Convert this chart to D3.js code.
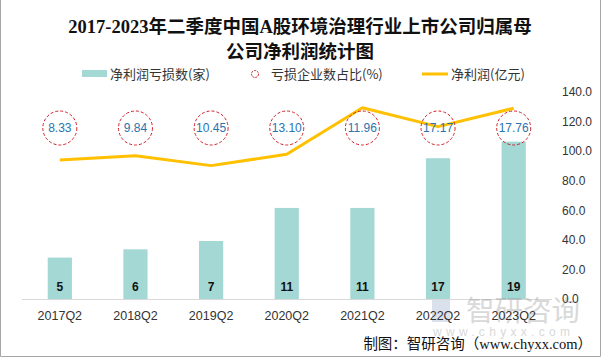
<!DOCTYPE html>
<html><head><meta charset="utf-8">
<script src="https://cdn.jsdelivr.net/npm/d3@7"></script>
<style>body{margin:0;background:#fff}svg{display:block}</style>
</head><body>
<svg id="c" width="601" height="357"></svg>
<script>
const categories = ["2017Q2","2018Q2","2019Q2","2020Q2","2021Q2","2022Q2","2023Q2"];
const lossCounts = [5, 6, 7, 11, 11, 17, 19];
const lossRatio = ["8.33","9.84","10.45","13.10","11.96","17.17","17.76"];
const netProfit = [94.0, 96.9, 90.2, 97.9, 129.4, 116.6, 129.0];
const rightTicks = [0, 20, 40, 60, 80, 100, 120, 140];
const titleLines = ["2017-2023年二季度中国A股环境治理行业上市公司归属母","公司净利润统计图"];
const legendLabels = ["净利润亏损数(家)","亏损企业数占比(%)","净利润(亿元)"];

const svg = d3.select("#c");
const W = 601, H = 357;
const sans = "'Liberation Sans','Noto Sans CJK SC',sans-serif";
const cjk = "'Noto Sans CJK SC',sans-serif";

// border
svg.append("path").attr("d", `M0.5,0 V${H-0.5} H${W-0.5} V0`).attr("fill","none").attr("stroke","#a6a6a6");

// title
svg.selectAll("text.title").data(titleLines).join("text")
  .attr("x", 300).attr("y", (d,i)=> 33 + i*25)
  .attr("text-anchor","middle")
  .attr("font-family","'Liberation Serif','Noto Sans CJK SC',serif")
  .attr("font-weight","bold").attr("font-size", 18.5).attr("fill","#111")
  .text(d=>d);

const x = d3.scaleBand().domain(categories).range([22, 551.5]).paddingInner(0.68).paddingOuter(0.34);
const yL = d3.scaleLinear().domain([0, 25]).range([299, 92]);
const yR = d3.scaleLinear().domain([0, 140]).range([299, 92]);
const cx = d => x(d) + x.bandwidth()/2;

// bars
svg.selectAll("rect.bar").data(lossCounts).join("rect")
  .attr("x",(d,i)=>x(categories[i])).attr("width",x.bandwidth())
  .attr("y",d=>yL(d)).attr("height",d=>yL(0)-yL(d))
  .attr("fill","#a3d8d4");

// axis baseline
svg.append("line").attr("x1",22).attr("x2",552).attr("y1",299.5).attr("y2",299.5).attr("stroke","#d9d9d9");

// watermark (drawn faintly, as in the reference)
const wm = svg.append("g").attr("opacity", 0.32);
wm.append("rect").attr("x",432).attr("y",300).attr("width",18).attr("height",22).attr("fill","#8fa3c8");
wm.append("text").attr("x",466).attr("y",321).attr("font-family",cjk).attr("font-size",28.5).attr("fill","#8a8a8a").text("智研咨询");
wm.append("text").attr("x",433).attr("y",336).attr("font-family",sans).attr("font-size",12).attr("letter-spacing",4.3).attr("fill","#8a8a8a").text("www.chyxx.com");

// bar labels
svg.selectAll("text.bl").data(lossCounts).join("text")
  .attr("x",(d,i)=>cx(categories[i])).attr("y",291)
  .attr("text-anchor","middle").attr("font-family",sans).attr("font-weight","bold")
  .attr("font-size",12).attr("fill","#111").text(d=>d);

// x axis labels
const xAxis = d3.axisBottom(x).tickSize(0).tickPadding(0);
const gx = svg.append("g").attr("transform","translate(0,312)").call(xAxis);
gx.select(".domain").remove();
gx.selectAll("text").attr("font-family",sans).attr("font-size",12.5).attr("fill","#333").attr("dy","0.65em");

// right axis
const rAxis = d3.axisRight(yR).tickValues(rightTicks).tickFormat(d3.format(".1f")).tickSize(0).tickPadding(0);
const gr = svg.append("g").attr("transform","translate(562,0)").call(rAxis);
gr.select(".domain").remove();
gr.selectAll("text").attr("font-family",sans).attr("font-size",12).attr("fill","#333");

// line
const line = d3.line().x((d,i)=>cx(categories[i])).y(d=>yR(d));
svg.append("path").datum(netProfit).attr("d",line).attr("fill","none")
  .attr("stroke","#ffc000").attr("stroke-width",3).attr("stroke-linejoin","round");

// ratio circles
const circleY = 128;
const cg = svg.selectAll("g.rc").data(lossRatio).join("g")
  .attr("transform",(d,i)=>`translate(${cx(categories[i])},${circleY})`);
cg.append("circle").attr("r",17).attr("fill","none").attr("stroke","#d0202a")
  .attr("stroke-width",1).attr("stroke-dasharray","3,2");
cg.append("text").attr("text-anchor","middle").attr("dy","0.36em")
  .attr("font-family",sans).attr("font-size",12).attr("fill","#2a74b0").text(d=>d);

// legend
const lg = svg.append("g").attr("font-family",cjk).attr("font-size",13).attr("fill","#333");
lg.append("rect").attr("x",82).attr("y",70).attr("width",25).attr("height",7).attr("fill","#a3d8d4");
lg.append("text").attr("x",110).attr("y",78.5).text(legendLabels[0]);
lg.append("circle").attr("cx",255).attr("cy",74).attr("r",3.5).attr("fill","none").attr("stroke","#d0202a").attr("stroke-width",1).attr("stroke-dasharray","2,1");
lg.append("text").attr("x",271).attr("y",78.5).text(legendLabels[1]);
lg.append("line").attr("x1",422).attr("x2",448).attr("y1",74).attr("y2",74).attr("stroke","#ffc000").attr("stroke-width",3);
lg.append("text").attr("x",451).attr("y",78.5).text(legendLabels[2]);

// footer
svg.append("text").attr("x",592).attr("y",349).attr("text-anchor","end")
  .attr("font-family","'Liberation Serif','Noto Sans CJK SC',serif").attr("font-size",14.5).attr("fill","#111")
  .text("制图：智研咨询（www.chyxx.com）");
</script>
</body></html>
